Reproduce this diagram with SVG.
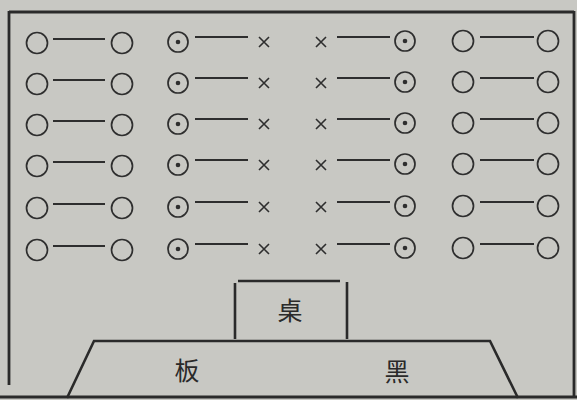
<svg xmlns="http://www.w3.org/2000/svg" xmlns:xlink="http://www.w3.org/1999/xlink" width="577" height="400" viewBox="0 0 577 400">
<style>
.bg{fill:#c8c8c3}
.seat{fill:none;stroke:#2e2e2e;stroke-width:1.7}
.dot{fill:#2e2e2e}
.x{stroke:#2e2e2e;stroke-width:1.6;fill:none}
.ln{stroke:#2e2e2e;stroke-width:2;fill:none}
.frame{stroke:#2a2a2a;stroke-width:2.8;fill:none}
.edge{stroke:#2a2a2a;stroke-width:2.6;fill:none}
.lbl{font-family:"Noto Sans CJK SC","Noto Sans CJK JP",serif;font-size:25px;fill:#2a2a2a;text-anchor:middle}
</style>
<defs>
<circle id="o" r="10.5" class="seat"/>
<g id="od"><circle r="10" class="seat"/><circle r="2.3" class="dot"/></g>
<g id="x"><path d="M-5,-5L5,5M5,-5L-5,5" class="x"/></g>
</defs>
<rect class="bg" x="0" y="0" width="577" height="400"/>
<g id="frame">
<path class="frame" d="M9,12H574"/>
<path class="frame" d="M9,11V385"/>
<path class="frame" d="M574,11V396"/>
<path class="frame" d="M0,397H577"/>
</g>
<g id="connectors">
<path class="ln" d="M53,39H105M53,80H105M53,121H105M53,162H105M53,204H105M53,246H105"/>
<path class="ln" d="M195,37H248M195,78H248M195,119H248M195,160H248M195,202H248M195,244H248"/>
<path class="ln" d="M337,37H390M337,78H390M337,119H390M337,160H390M337,202H390M337,244H390"/>
<path class="ln" d="M480,37H534M480,78H534M480,119H534M480,160H534M480,202H534M480,244H534"/>
</g>
<g id="col1">
<use xlink:href="#o" x="37" y="43"/><use xlink:href="#o" x="37" y="84"/><use xlink:href="#o" x="37" y="125"/><use xlink:href="#o" x="37" y="166"/><use xlink:href="#o" x="37" y="208"/><use xlink:href="#o" x="37" y="250"/>
</g>
<g id="col2">
<use xlink:href="#o" x="122" y="43"/><use xlink:href="#o" x="122" y="84"/><use xlink:href="#o" x="122" y="125"/><use xlink:href="#o" x="122" y="166"/><use xlink:href="#o" x="122" y="208"/><use xlink:href="#o" x="122" y="250"/>
</g>
<g id="col3">
<use xlink:href="#od" x="178" y="42"/><use xlink:href="#od" x="178" y="83"/><use xlink:href="#od" x="178" y="124"/><use xlink:href="#od" x="178" y="165"/><use xlink:href="#od" x="178" y="207"/><use xlink:href="#od" x="178" y="249"/>
</g>
<g id="col4">
<use xlink:href="#x" x="264" y="42"/><use xlink:href="#x" x="264" y="83"/><use xlink:href="#x" x="264" y="124"/><use xlink:href="#x" x="264" y="165"/><use xlink:href="#x" x="264" y="207"/><use xlink:href="#x" x="264" y="249"/>
</g>
<g id="col5">
<use xlink:href="#x" x="321" y="42"/><use xlink:href="#x" x="321" y="83"/><use xlink:href="#x" x="321" y="124"/><use xlink:href="#x" x="321" y="165"/><use xlink:href="#x" x="321" y="207"/><use xlink:href="#x" x="321" y="249"/>
</g>
<g id="col6">
<use xlink:href="#od" x="405" y="41"/><use xlink:href="#od" x="405" y="82"/><use xlink:href="#od" x="405" y="123"/><use xlink:href="#od" x="405" y="164"/><use xlink:href="#od" x="405" y="206"/><use xlink:href="#od" x="405" y="248"/>
</g>
<g id="col7">
<use xlink:href="#o" x="463" y="41"/><use xlink:href="#o" x="463" y="82"/><use xlink:href="#o" x="463" y="123"/><use xlink:href="#o" x="463" y="164"/><use xlink:href="#o" x="463" y="206"/><use xlink:href="#o" x="463" y="248"/>
</g>
<g id="col8">
<use xlink:href="#o" x="548" y="41"/><use xlink:href="#o" x="548" y="82"/><use xlink:href="#o" x="548" y="123"/><use xlink:href="#o" x="548" y="164"/><use xlink:href="#o" x="548" y="206"/><use xlink:href="#o" x="548" y="248"/>
</g>
<g id="desk">
<path class="edge" d="M238,281H340M235,283V339M347,282V339"/>
<text class="lbl" x="290" y="320">桌</text>
</g>
<g id="blackboard">
<path class="edge" d="M67,398L94,341H490L518,398"/>
<text class="lbl" x="187" y="380">板</text>
<text class="lbl" x="397" y="381">黑</text>
</g>
</svg>
